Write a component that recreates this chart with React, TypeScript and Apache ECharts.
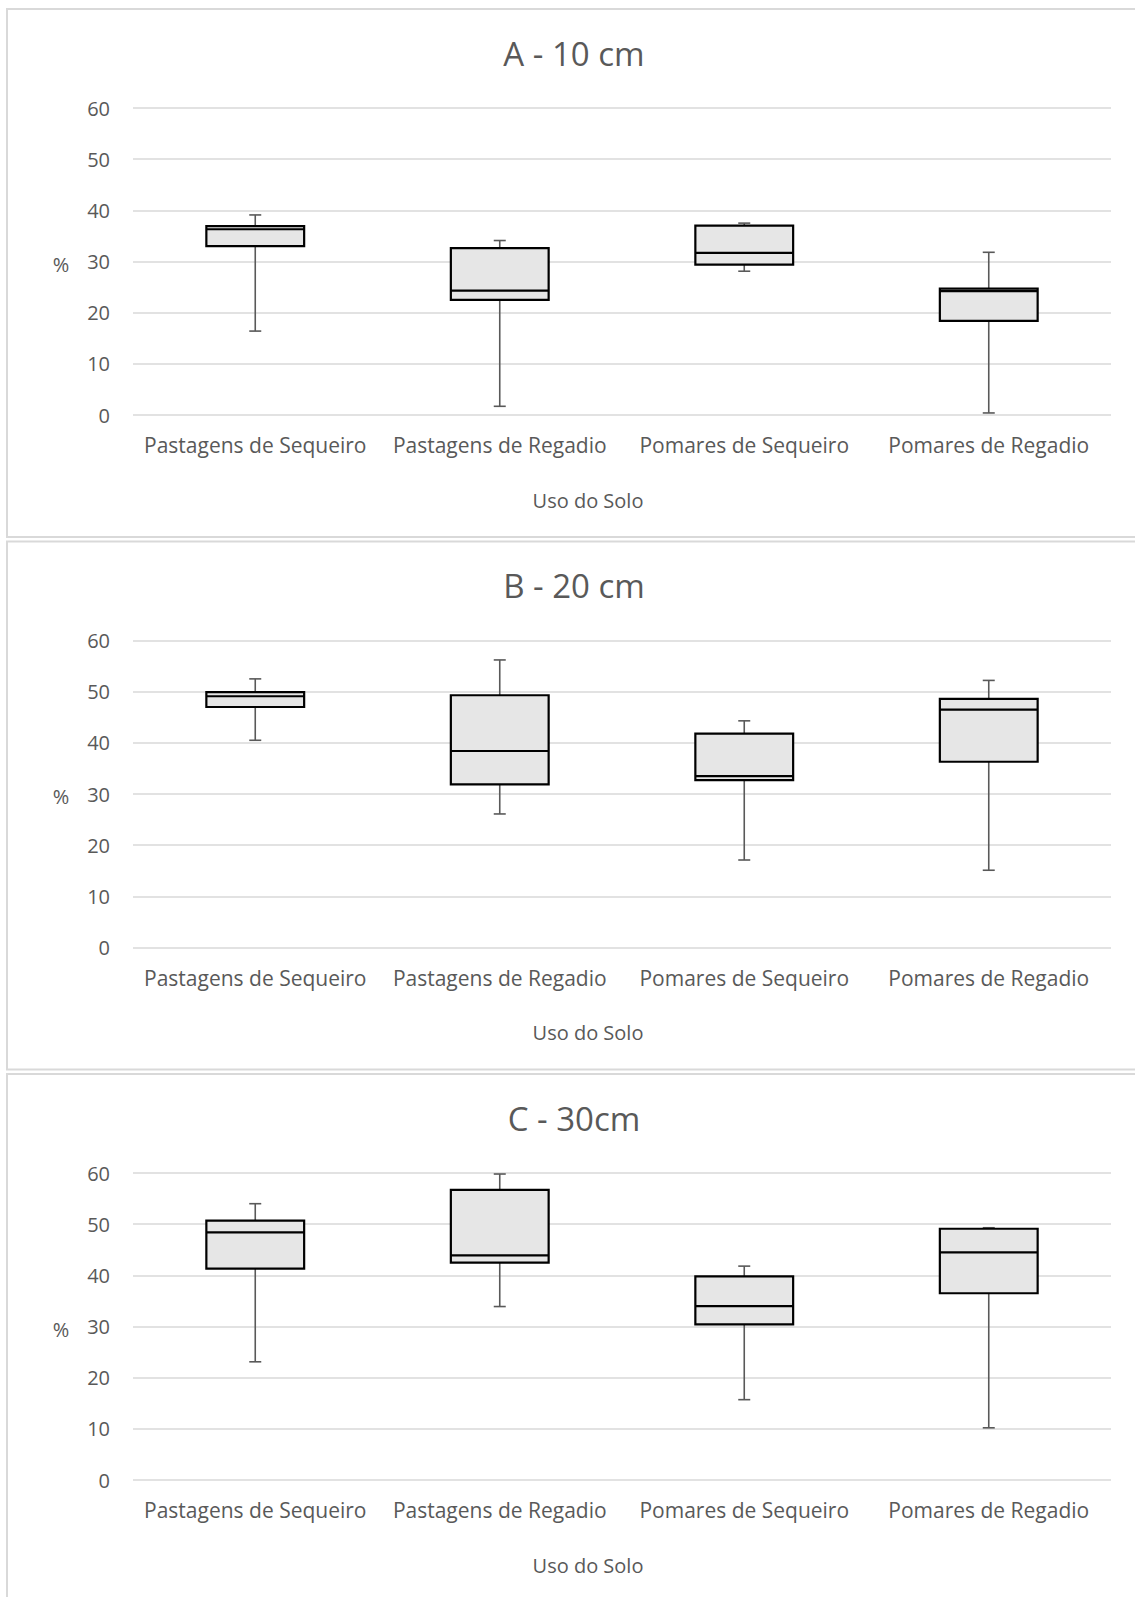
import React, { useEffect, useRef } from "react";
import * as echarts from "echarts";

const categories = [
  "Pastagens de Sequeiro",
  "Pastagens de Regadio",
  "Pomares de Sequeiro",
  "Pomares de Regadio",
];

const panelTitles = ["A - 10 cm", "B - 20 cm", "C - 30cm"];
const xAxisTitle = "Uso do Solo";
const yAxisTitle = "%";
const yMin = 0;
const yMax = 60;
const yStep = 10;

// [min, Q1, median, Q3, max] per category
const depth10 = [
  [16.4, 33.0, 36.3, 36.9, 39.1],
  [1.7, 22.5, 24.3, 32.6, 34.1],
  [28.1, 29.4, 31.7, 37.0, 37.5],
  [0.4, 18.4, 24.2, 24.7, 31.8],
];
const depth20 = [
  [40.5, 47.0, 49.1, 49.9, 52.5],
  [26.1, 31.9, 38.4, 49.3, 56.2],
  [17.1, 32.7, 33.5, 41.8, 44.3],
  [15.1, 36.3, 46.5, 48.6, 52.2],
];
const depth30 = [
  [23.1, 41.3, 48.4, 50.7, 54.0],
  [33.9, 42.5, 43.9, 56.7, 59.8],
  [15.7, 30.4, 34.0, 39.8, 41.8],
  [10.2, 36.5, 44.5, 49.1, 49.3],
];
const panels = [depth10, depth20, depth30];

const FONT = "'Open Sans', sans-serif";
const TEXT = "#595959";
const GRID_COLOR = "#D9D9D9";

const renderBox = (params: any, api: any) => {
  const idx = api.value(0);
  const mn = api.value(1);
  const q1 = api.value(2);
  const md = api.value(3);
  const q3 = api.value(4);
  const mx = api.value(5);
  const cx = api.coord([idx, 0])[0];
  const y = (v: number) => api.coord([idx, v])[1];
  const bw = api.size([1, 0])[0] * 0.4;
  const cap = 12;
  const wStyle = { stroke: "#595959", lineWidth: 1.6 };
  return {
    type: "group",
    children: [
      { type: "line", shape: { x1: cx, y1: y(q3), x2: cx, y2: y(mx) }, style: wStyle },
      { type: "line", shape: { x1: cx - cap / 2, y1: y(mx), x2: cx + cap / 2, y2: y(mx) }, style: wStyle },
      { type: "line", shape: { x1: cx, y1: y(q1), x2: cx, y2: y(mn) }, style: wStyle },
      { type: "line", shape: { x1: cx - cap / 2, y1: y(mn), x2: cx + cap / 2, y2: y(mn) }, style: wStyle },
      {
        type: "rect",
        shape: { x: cx - bw / 2, y: y(q3), width: bw, height: y(q1) - y(q3) },
        style: { fill: "#E6E6E6", stroke: "#000000", lineWidth: 2.2 },
      },
      {
        type: "line",
        shape: { x1: cx - bw / 2, y1: y(md), x2: cx + bw / 2, y2: y(md) },
        style: { stroke: "#000000", lineWidth: 2.2 },
      },
    ],
  };
};

export default function App() {
  const ref = useRef<HTMLDivElement>(null);

  useEffect(() => {
    if (!ref.current) return;
    const chart = echarts.init(ref.current, undefined, { renderer: "svg" });

    const panelStep = 532.5;
    const gridTop0 = 108;
    const gridHeight = 307;
    const grids: any[] = [];
    const xAxes: any[] = [];
    const yAxes: any[] = [];
    const series: any[] = [];
    const graphics: any[] = [];

    panels.forEach((data, p) => {
      const off = p * panelStep;
      grids.push({
        left: 133,
        right: 24,
        top: gridTop0 + off,
        height: gridHeight,
        containLabel: false,
      });
      xAxes.push({
        type: "category",
        gridIndex: p,
        data: categories,
        axisLine: { show: false },
        axisTick: { show: false },
        axisLabel: {
          color: TEXT,
          fontFamily: FONT,
          fontSize: 21,
          margin: 19,
          lineHeight: 22,
          interval: 0,
          hideOverlap: false,
        },
        splitLine: { show: false },
      });
      yAxes.push({
        type: "value",
        gridIndex: p,
        min: yMin,
        max: yMax,
        interval: yStep,
        axisLine: { show: false },
        axisTick: { show: false },
        axisLabel: { color: TEXT, fontFamily: FONT, fontSize: 20, margin: 23 },
        splitLine: { lineStyle: { color: GRID_COLOR, width: 1.5 } },
      });
      series.push({
        type: "custom",
        xAxisIndex: p,
        yAxisIndex: p,
        renderItem: renderBox,
        encode: { x: 0, y: [1, 2, 3, 4, 5] },
        data: data.map((v, i) => [i, ...v]),
        clip: false,
      });
      // panel border
      graphics.push({
        type: "rect",
        shape: { x: 7, y: 9 + off, width: 1140, height: 528 },
        style: { fill: "none", stroke: GRID_COLOR, lineWidth: 2 },
        z: -1,
      });
      graphics.push({
        type: "text",
        x: 574,
        y: 53 + off,
        style: {
          text: panelTitles[p],
          fill: TEXT,
          font: `33px ${FONT}`,
          align: "center",
          verticalAlign: "middle",
        },
      });
      graphics.push({
        type: "text",
        x: 588,
        y: 500 + off,
        style: {
          text: xAxisTitle,
          fill: TEXT,
          font: `20px ${FONT}`,
          align: "center",
          verticalAlign: "middle",
        },
      });
      graphics.push({
        type: "text",
        x: 61,
        y: 264 + off,
        style: {
          text: yAxisTitle,
          fill: TEXT,
          font: `20px ${FONT}`,
          align: "center",
          verticalAlign: "middle",
        },
      });
    });

    chart.setOption({
      animation: false,
      backgroundColor: "#FFFFFF",
      grid: grids,
      xAxis: xAxes,
      yAxis: yAxes,
      series,
      graphic: graphics,
    });

    return () => chart.dispose();
  }, []);

  return (
    <div
      ref={ref}
      style={{ position: "absolute", left: 0, top: 0, width: 1135, height: 1597 }}
    />
  );
}
